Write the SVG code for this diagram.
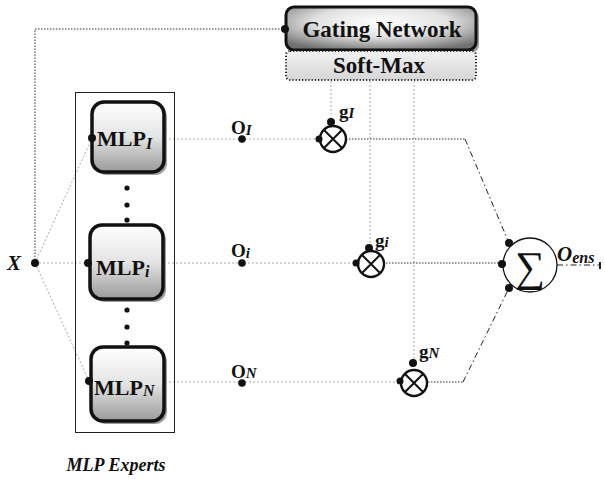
<svg xmlns="http://www.w3.org/2000/svg" width="605" height="479" viewBox="0 0 605 479">
  <defs>
    <linearGradient id="mlpFill" x1="0" y1="0" x2="0" y2="1">
      <stop offset="0" stop-color="#ffffff"/>
      <stop offset="0.5" stop-color="#e4e4e4"/>
      <stop offset="1" stop-color="#9a9a9a"/>
    </linearGradient>
    <radialGradient id="gateFill" cx="0.5" cy="0.35" r="0.7">
      <stop offset="0" stop-color="#ffffff"/>
      <stop offset="0.5" stop-color="#e2e2e2"/>
      <stop offset="1" stop-color="#707070"/>
    </radialGradient>
    <linearGradient id="softFill" x1="0" y1="0" x2="0" y2="1">
      <stop offset="0" stop-color="#f2f2f2"/>
      <stop offset="1" stop-color="#d6d6d6"/>
    </linearGradient>
  </defs>
  <style>
    text { font-family: "Liberation Serif", serif; }
    .lbl { font-weight: bold; fill: #111; }
    .it { font-style: italic; }
    .box { fill: url(#mlpFill); stroke: #111; stroke-width: 3.5; }
    .shadow { fill: #9c9c9c; }
    .dot { fill: #111; }
    .thin { fill: none; stroke: #aaa; stroke-width: 1; stroke-dasharray: 2 2; }
    .dark { fill: none; stroke: #333; stroke-width: 1; stroke-dasharray: 1.5 1.5; }
    .dashdot { fill: none; stroke: #222; stroke-width: 1; stroke-dasharray: 6 3 1.5 3; }
    .mult { fill: #fff; stroke: #111; stroke-width: 2.4; }
  </style>

  <!-- connectors -->
  <g id="connectors">
    <!-- input X to gating network -->
    <path class="dark" d="M35,263 V29 H285"/>
    <!-- input X to experts -->
    <path class="thin" d="M35,263 L92,138"/>
    <path class="thin" d="M35,263 H88"/>
    <path class="thin" d="M35,263 L89,381"/>
    <!-- expert outputs to multipliers -->
    <path class="thin" d="M165,139 H318"/>
    <path class="thin" d="M164,263 H355"/>
    <path class="thin" d="M165,382 H400"/>
    <!-- gate weights from soft-max -->
    <path class="thin" d="M331,81 V121"/>
    <path class="thin" d="M370,81 V247"/>
    <path class="thin" d="M414,81 V362"/>
    <!-- weighted outputs to summation -->
    <path class="dark" d="M346,139 H465"/>
    <path class="dashdot" d="M465,139 L509,243"/>
    <path class="dark" d="M386,263 H502"/>
    <path class="dark" d="M428,382 H463"/>
    <path class="dashdot" d="M463,382 L509,288"/>
    <!-- ensemble output -->
    <path class="dashdot" d="M557,265 H600"/>
    <path d="M600,262 V269" stroke="#222" stroke-width="2"/>
  </g>

  <!-- input -->
  <g id="input-x">
    <circle class="dot" cx="35" cy="263" r="4"/>
    <text class="lbl it" x="7" y="270" font-size="21">X</text>
  </g>

  <!-- gating network with soft-max -->
  <g id="gating-network">
    <rect x="289" y="10" width="190" height="43" rx="8" class="shadow"/>
    <rect x="286" y="7" width="190" height="43" rx="8" fill="url(#gateFill)" stroke="#111" stroke-width="3"/>
    <circle class="dot" cx="285" cy="29" r="4"/>
    <text class="lbl" x="382" y="37" font-size="23" text-anchor="middle">Gating Network</text>
  </g>
  <g id="soft-max">
    <rect x="286" y="51" width="190" height="29" rx="4" fill="url(#softFill)" stroke="#222" stroke-width="2" stroke-dasharray="1.2 2"/>
    <text class="lbl" x="379" y="73" font-size="23" text-anchor="middle">Soft-Max</text>
  </g>

  <!-- expert panel -->
  <g id="mlp-experts">
    <rect x="75.5" y="92.5" width="99" height="340" fill="none" stroke="#222" stroke-width="1"/>
    <text class="lbl it" x="116" y="471" font-size="18" text-anchor="middle">MLP Experts</text>
    <circle class="dot" cx="127" cy="188" r="2.6"/>
    <circle class="dot" cx="127" cy="205" r="2.6"/>
    <circle class="dot" cx="127" cy="220" r="2.6"/>
    <circle class="dot" cx="127" cy="310" r="2.6"/>
    <circle class="dot" cx="127" cy="327" r="2.6"/>
    <circle class="dot" cx="127" cy="343" r="2.6"/>
  </g>

  <g id="mlp-1">
    <rect x="95" y="105" width="72" height="70" rx="12" class="shadow"/>
    <rect x="92" y="102" width="72" height="70" rx="12" class="box"/>
    <circle class="dot" cx="92" cy="138" r="4"/>
    <text class="lbl" x="97" y="146" font-size="22">MLP<tspan class="it" font-size="16" dy="3">I</tspan></text>
  </g>

  <g id="mlp-i">
    <rect x="93" y="228" width="73" height="74" rx="12" class="shadow"/>
    <rect x="90" y="225" width="73" height="74" rx="12" class="box"/>
    <circle class="dot" cx="88" cy="263" r="4"/>
    <text class="lbl" x="96" y="275" font-size="22">MLP<tspan class="it" font-size="16" dy="2">i</tspan></text>
  </g>

  <g id="mlp-n">
    <rect x="94" y="350" width="73" height="74" rx="12" class="shadow"/>
    <rect x="91" y="347" width="73" height="74" rx="12" class="box"/>
    <circle class="dot" cx="89" cy="381" r="4"/>
    <text class="lbl" x="94" y="395" font-size="22">MLP<tspan class="it" font-size="16" dy="1">N</tspan></text>
  </g>

  <!-- expert output points -->
  <g id="out-1">
    <circle class="dot" cx="242" cy="139" r="3.8"/>
    <text class="lbl" x="231" y="134" font-size="19">O<tspan class="it" font-size="15" dy="1">I</tspan></text>
  </g>
  <g id="out-i">
    <circle class="dot" cx="242" cy="263" r="3.8"/>
    <text class="lbl" x="231" y="257" font-size="19">O<tspan class="it" font-size="15" dy="1">i</tspan></text>
  </g>
  <g id="out-n">
    <circle class="dot" cx="242" cy="383" r="3.8"/>
    <text class="lbl" x="231" y="378" font-size="19">O<tspan class="it" font-size="15">N</tspan></text>
  </g>

  <!-- multipliers -->
  <g id="mult-1">
    <circle class="mult" cx="333" cy="139" r="13"/>
    <path d="M324,130 L342,148 M342,130 L324,148" stroke="#111" stroke-width="2"/>
    <circle class="dot" cx="331" cy="122" r="4"/>
    <circle class="dot" cx="319" cy="139" r="3.5"/>
    <text class="lbl" x="339" y="118" font-size="19">g<tspan class="it" font-size="15">I</tspan></text>
  </g>
  <g id="mult-i">
    <circle class="mult" cx="371" cy="264" r="13"/>
    <path d="M362,255 L380,273 M380,255 L362,273" stroke="#111" stroke-width="2"/>
    <circle class="dot" cx="369" cy="248" r="4"/>
    <circle class="dot" cx="356" cy="263" r="3.5"/>
    <text class="lbl" x="375" y="247" font-size="19">g<tspan class="it" font-size="15">i</tspan></text>
  </g>
  <g id="mult-n">
    <circle class="mult" cx="414" cy="383" r="13"/>
    <path d="M405,374 L423,392 M423,374 L405,392" stroke="#111" stroke-width="2"/>
    <circle class="dot" cx="413" cy="363" r="4"/>
    <circle class="dot" cx="400" cy="381" r="3.5"/>
    <text class="lbl" x="419" y="358" font-size="19">g<tspan class="it" font-size="15">N</tspan></text>
  </g>

  <!-- summation -->
  <g id="sum">
    <circle cx="530" cy="265" r="27" fill="#fff" stroke="#111" stroke-width="1.3"/>
    <text x="530" y="281" font-size="42" text-anchor="middle" fill="#111">∑</text>
    <circle class="dot" cx="509" cy="243" r="4"/>
    <circle class="dot" cx="502" cy="264" r="4"/>
    <circle class="dot" cx="509" cy="288" r="4"/>
    <text class="lbl it" x="557" y="261" font-size="21">O<tspan font-size="16" dy="2">ens</tspan></text>
  </g>
</svg>
